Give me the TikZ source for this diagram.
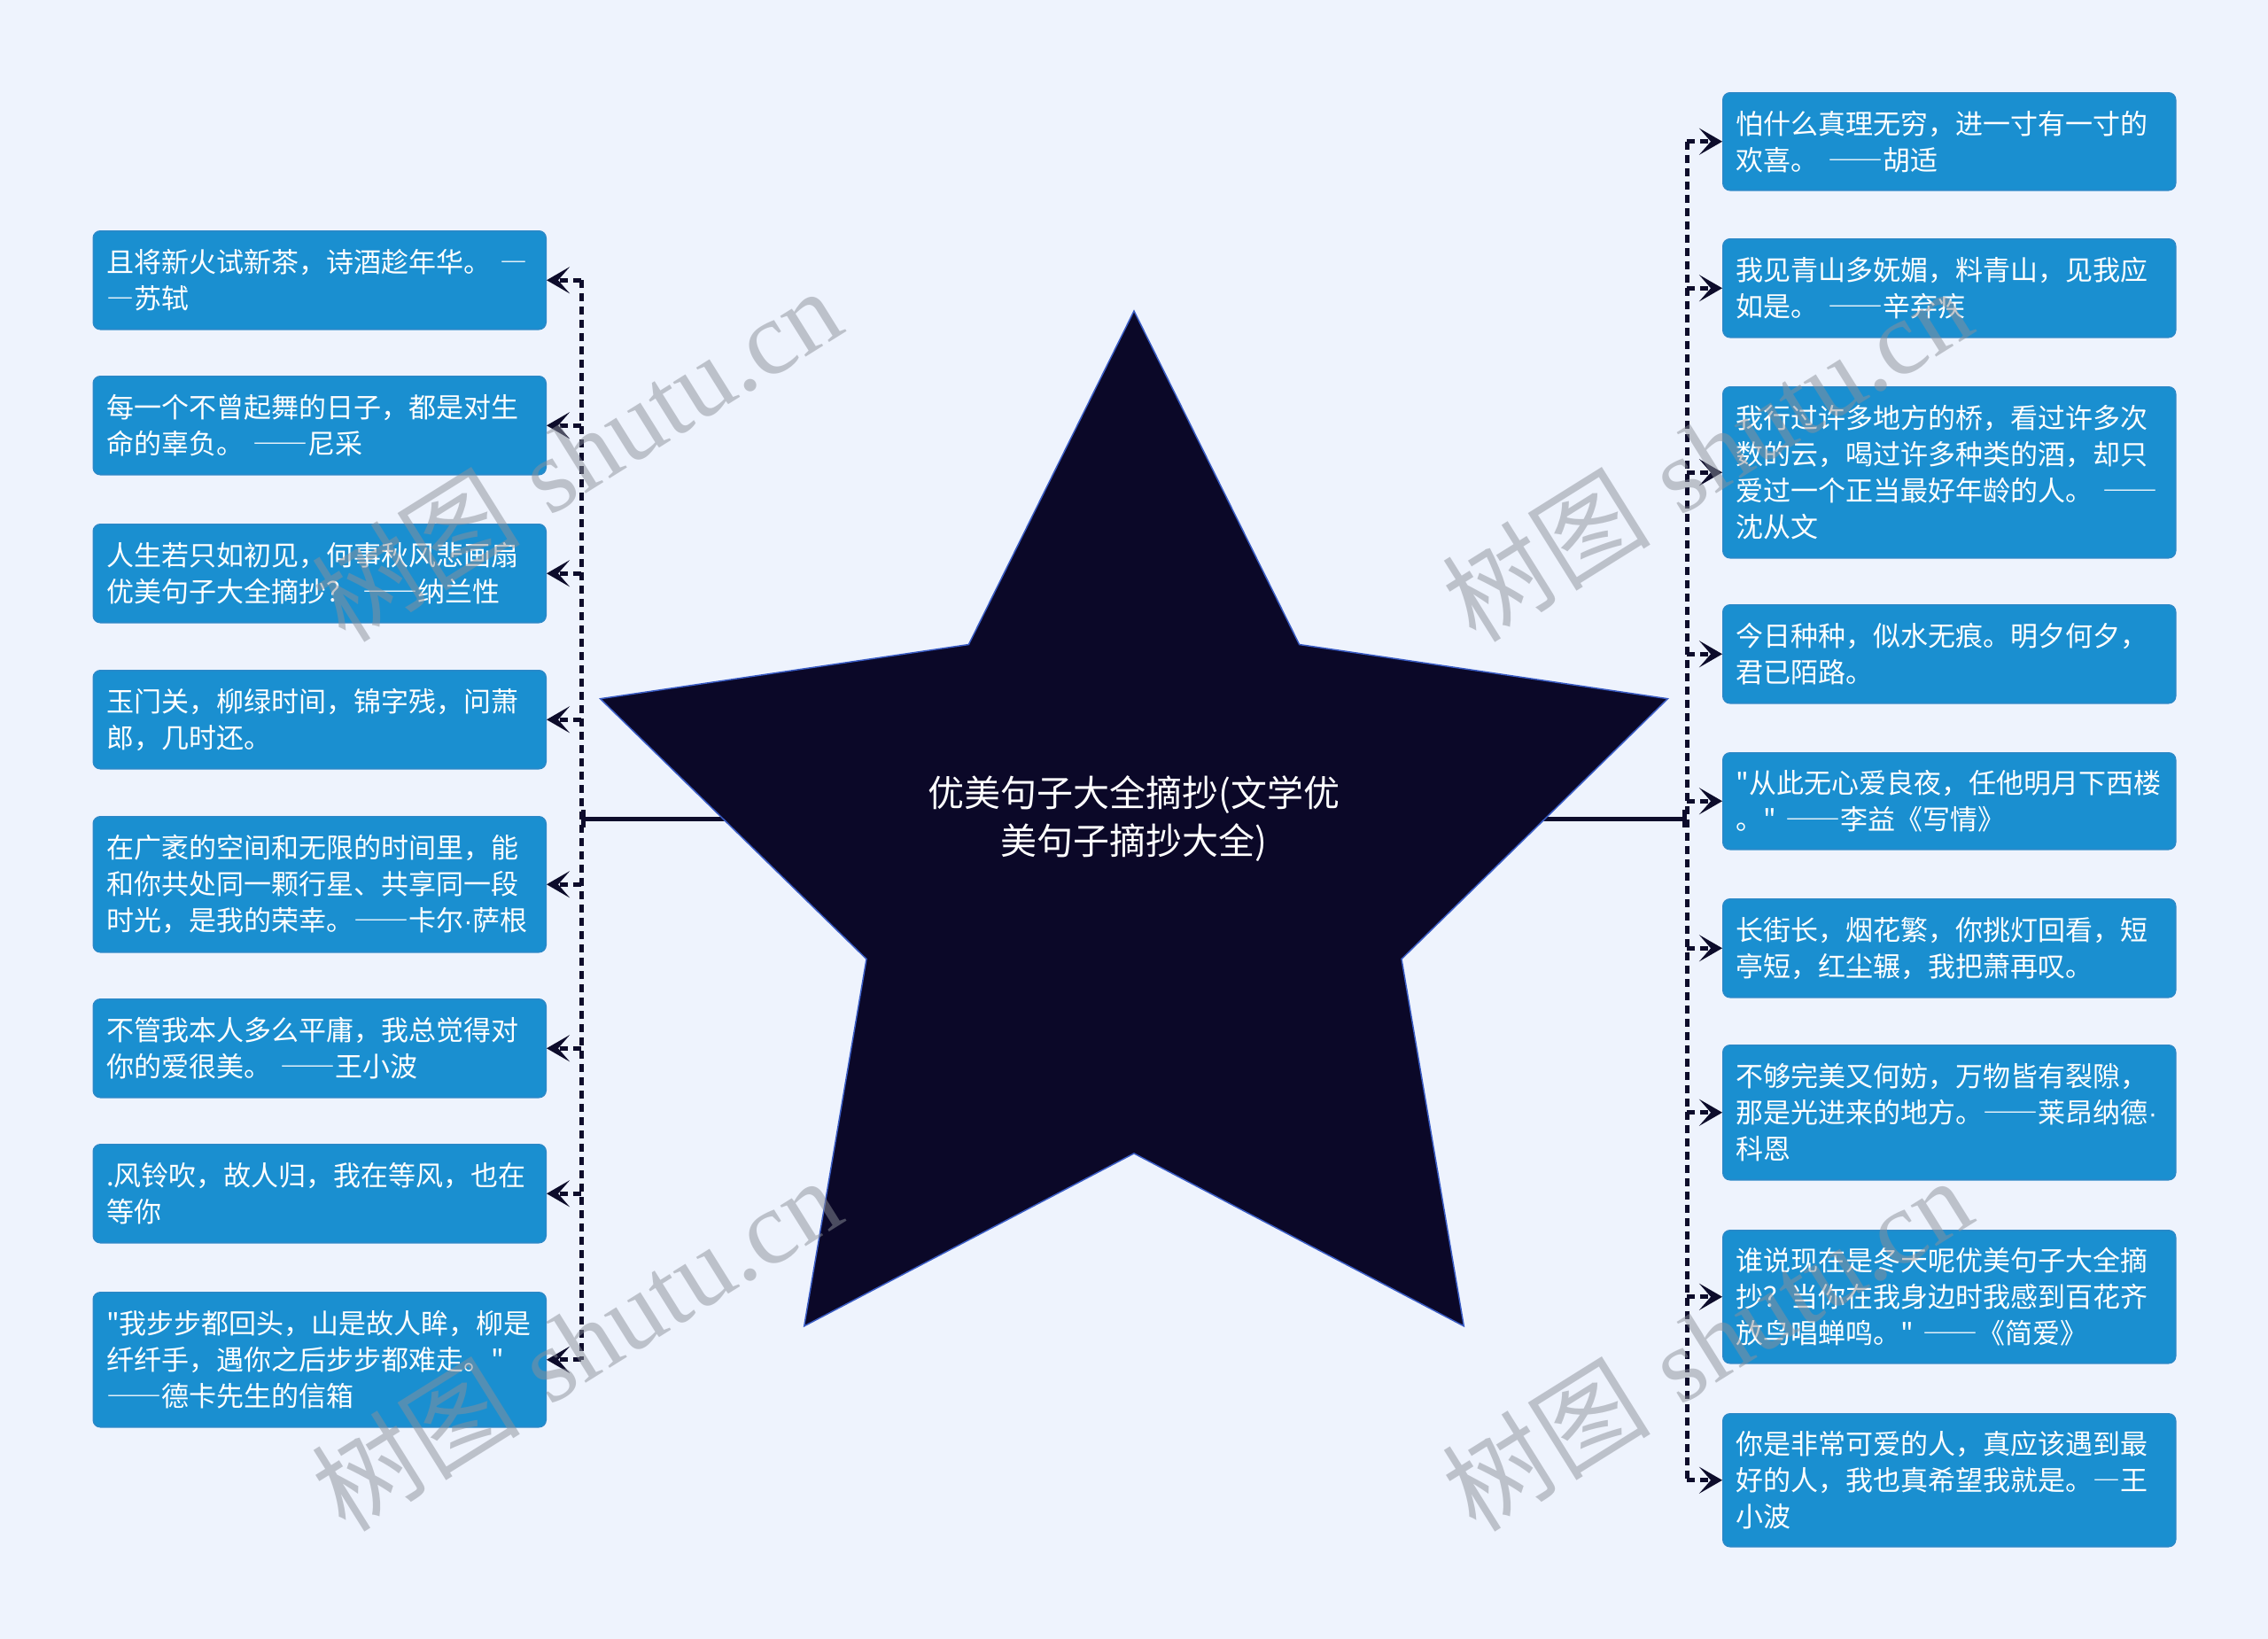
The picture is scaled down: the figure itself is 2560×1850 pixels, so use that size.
\documentclass[tikz,border=0pt]{standalone}
\usepackage{fontspec}
\usetikzlibrary{arrows.meta}
\newfontfamily\cjk{Noto Sans CJK SC}[Ligatures=TeXOff]
\newfontfamily\wmlat{Liberation Serif}
\newfontfamily\dotfont{Liberation Sans}
\newcommand\emd{{\addfontfeatures{RawFeature=+fwid}—}}
\newcommand\mdot{{\dotfont ·}}
\definecolor{bgc}{HTML}{EEF3FD}
\definecolor{boxblue}{HTML}{1A8FD0}
\definecolor{boxedge}{HTML}{2A88C8}
\definecolor{navy}{HTML}{0D0C2B}
\definecolor{starfill}{HTML}{0B0828}
\definecolor{staredge}{HTML}{3A5CC4}
\definecolor{wmgray}{HTML}{8C9099}
\begin{document}
\begin{tikzpicture}[x=1pt,y=-1pt,
  qbox/.style={rectangle, rounded corners=8pt, fill=boxblue, draw=boxedge, line width=1.5pt,
    text=white, font=\cjk\fontsize{31}{41}\selectfont, text width=481pt, inner xsep=15pt,
    inner ysep=0pt, align=left, anchor=north west},
  trunk/.style={draw=navy, line width=5pt, dash pattern=on 9pt off 6pt},
  conn/.style={trunk, -{Stealth[length=26pt,width=30pt,inset=13pt]}},
  mainline/.style={draw=navy, line width=5pt, -{Bar[width=20pt]}},
  wm/.style={text=wmgray, opacity=0.5, rotate=32, font=\fontsize{118}{118}\selectfont}]
\fill[bgc] (0,0) rectangle (2560,1850);
\useasboundingbox (0,0) rectangle (2560,1850);
\coordinate (tc) at (1280,924);
\coordinate (lt) at (656,924);
\coordinate (rt) at (1904,924);
\draw[mainline] (tc) -- (lt);
\draw[mainline] (tc) -- (rt);
\filldraw[fill=starfill, draw=staredge, line width=1.5pt, line join=miter]
  (1280,351.0) -- (1466.6,727.5) -- (1882.4,788.7) -- (1582.0,1082.5) -- (1652.3,1496.8)
  -- (1280,1301.9) -- (907.7,1496.8) -- (978.0,1082.5) -- (677.6,788.7) -- (1093.4,727.5) -- cycle;
\node[text=white, font=\cjk\fontsize{41}{54}\selectfont, align=center] (topic) at (tc)
  {优美句子大全摘抄(文学优\\美句子摘抄大全)};
% left boxes
\node[qbox, minimum height=111pt] (L1) at (104.5,260) {且将新火试新茶，诗酒趁年华。 \emd\\\emd 苏轼};
\node[qbox, minimum height=111pt] (L2) at (104.5,424) {每一个不曾起舞的日子，都是对生\\命的辜负。 \emd\emd 尼采};
\node[qbox, minimum height=111pt] (L3) at (104.5,591) {人生若只如初见，何事秋风悲画扇\\优美句子大全摘抄？ \emd\emd 纳兰性};
\node[qbox, minimum height=111pt] (L4) at (104.5,756) {玉门关，柳绿时间，锦字残，问萧\\郎，几时还。};
\node[qbox, minimum height=153pt] (L5) at (104.5,921) {在广袤的空间和无限的时间里，能\\和你共处同一颗行星、共享同一段\\时光，是我的荣幸。\emd\emd 卡尔\mdot 萨根};
\node[qbox, minimum height=111pt] (L6) at (104.5,1127) {不管我本人多么平庸，我总觉得对\\你的爱很美。 \emd\emd 王小波};
\node[qbox, minimum height=111pt] (L7) at (104.5,1291) {.风铃吹，故人归，我在等风，也在\\等你};
\node[qbox, minimum height=152pt] (L8) at (104.5,1458) {"我步步都回头，山是故人眸，柳是\\纤纤手，遇你之后步步都难走。"\\\emd\emd 德卡先生的信箱};
% right boxes
\node[qbox, minimum height=110pt] (R1) at (1944,104) {怕什么真理无穷，进一寸有一寸的\\欢喜。 \emd\emd 胡适};
\node[qbox, minimum height=111pt] (R2) at (1944,269) {我见青山多妩媚，料青山，见我应\\如是。 \emd\emd 辛弃疾};
\node[qbox, minimum height=193pt] (R3) at (1944,436) {我行过许多地方的桥，看过许多次\\数的云，喝过许多种类的酒，却只\\爱过一个正当最好年龄的人。 \emd\emd\\沈从文};
\node[qbox, minimum height=111pt] (R4) at (1944,682) {今日种种，似水无痕。明夕何夕，\\君已陌路。};
\node[qbox, minimum height=109pt] (R5) at (1944,849) {"从此无心爱良夜，任他明月下西楼\\。" \emd\emd 李益《写情》};
\node[qbox, minimum height=111pt] (R6) at (1944,1014) {长街长，烟花繁，你挑灯回看，短\\亭短，红尘辗，我把萧再叹。};
\node[qbox, minimum height=152pt] (R7) at (1944,1179) {不够完美又何妨，万物皆有裂隙，\\那是光进来的地方。\emd\emd 莱昂纳德\mdot\\科恩};
\node[qbox, minimum height=150pt] (R8) at (1944,1388) {谁说现在是冬天呢优美句子大全摘\\抄？当你在我身边时我感到百花齐\\放鸟唱蝉鸣。" \emd\emd 《简爱》};
\node[qbox, minimum height=150pt] (R9) at (1944,1595) {你是非常可爱的人，真应该遇到最\\好的人，我也真希望我就是。\emd 王\\小波};
% trunks
\draw[trunk] (lt |- L1.east) -- (lt |- L8.east);
\draw[trunk] (rt |- R1.west) -- (rt |- R9.west);
\foreach \b in {L1,L2,L3,L4,L5,L6,L7,L8}
  \draw[conn] (lt |- \b.east) -- (\b.east);
\foreach \b in {R1,R2,R3,R4,R5,R6,R7,R8,R9}
  \draw[conn] (rt |- \b.west) -- (\b.west);
% watermarks
\node[wm] (wm1) at (650,512) {{\cjk 树图} {\wmlat shutu.cn}};
\node[wm] (wm2) at (650,1516) {{\cjk 树图} {\wmlat shutu.cn}};
\node[wm] (wm3) at (1926,512) {{\cjk 树图} {\wmlat shutu.cn}};
\node[wm] (wm4) at (1926,1516) {{\cjk 树图} {\wmlat shutu.cn}};
\end{tikzpicture}
\end{document}
